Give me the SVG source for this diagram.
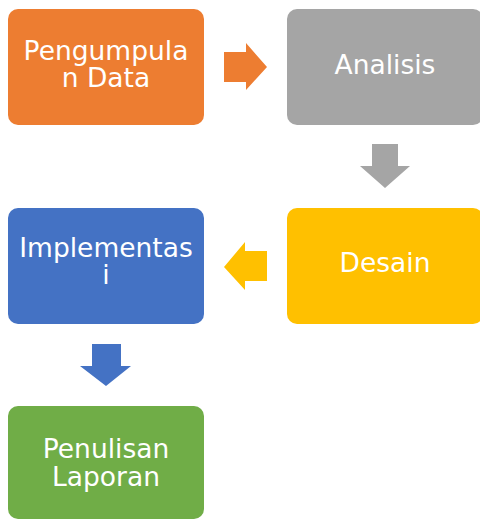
<svg xmlns="http://www.w3.org/2000/svg" width="480" height="520" viewBox="0 0 480 520">
<style>
.lbl{font-family:"DejaVu Sans","Liberation Sans",sans-serif;font-size:26.5px;fill:#ffffff;text-anchor:middle}
</style>
<rect width="480" height="520" fill="#ffffff"/>
<g id="connectors">
<polygon fill="#ED7D31" points="224,52 246,52 246,43 267,67 246,90 246,82 224,82"/>
<polygon fill="#A5A5A5" points="372,144 398,144 398,166 410,166 385,188 360,166 372,166"/>
<polygon fill="#FFC000" points="267,251 245,251 245,242 224,267 245,290 245,281 267,281"/>
<polygon fill="#4472C4" points="92,344 121,344 121,366 131,366 106,386 80,366 92,366"/>
</g>
<g id="node-pengumpulan">
<rect x="8" y="9" width="196" height="116" rx="10" fill="#ED7D31"/>
<text class="lbl"><tspan x="106" y="60">Pengumpula</tspan><tspan x="106" y="87">n Data</tspan></text>
</g>
<g id="node-analisis">
<rect x="287" y="9" width="196" height="116" rx="10" fill="#A5A5A5"/>
<text class="lbl" x="385" y="74">Analisis</text>
</g>
<g id="node-desain">
<rect x="287" y="208" width="196" height="116" rx="10" fill="#FFC000"/>
<text class="lbl" x="385" y="272">Desain</text>
</g>
<g id="node-implementasi">
<rect x="8" y="208" width="196" height="116" rx="10" fill="#4472C4"/>
<text class="lbl"><tspan x="106" y="257">Implementas</tspan><tspan x="106" y="284">i</tspan></text>
</g>
<g id="node-penulisan">
<rect x="8" y="406" width="196" height="113" rx="10" fill="#70AD47"/>
<text class="lbl"><tspan x="106" y="458">Penulisan</tspan><tspan x="106" y="486">Laporan</tspan></text>
</g>
</svg>
